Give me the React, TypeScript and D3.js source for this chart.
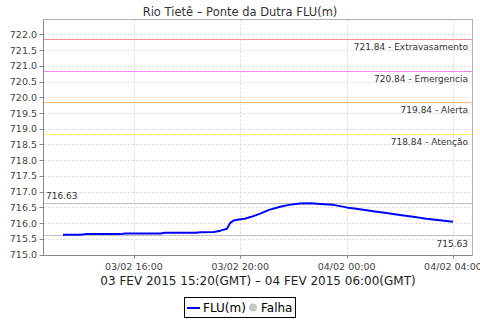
import React from "react";
import * as d3 from "d3";

const title = "Rio Tietê – Ponte da Dutra FLU(m)";
const xAxisTitle = "03 FEV 2015 15:20(GMT) – 04 FEV 2015 06:00(GMT)";

// local times (hh:mm) from 03/02 13:20 to 04/02 04:00
const times = [
  "03 13:20", "03 14:00", "03 14:10", "03 15:30", "03 15:40", "03 17:00", "03 17:10",
  "03 18:20", "03 18:30", "03 19:00", "03 19:15", "03 19:30", "03 19:37", "03 19:45",
  "03 20:00", "03 20:10", "03 20:25", "03 20:45", "03 21:05", "03 21:30", "03 21:50",
  "03 22:15", "03 22:40", "03 23:00", "03 23:30", "04 00:00", "04 00:30", "04 01:00",
  "04 01:30", "04 02:00", "04 02:30", "04 03:00", "04 03:30", "04 04:00",
];
const values = [
  715.63, 715.63, 715.65, 715.65, 715.67, 715.67, 715.69,
  715.69, 715.71, 715.72, 715.76, 715.82, 716.0, 716.08,
  716.12, 716.14, 716.2, 716.3, 716.42, 716.52, 716.58,
  716.62, 716.63, 716.61, 716.58, 716.5, 716.44, 716.38,
  716.32, 716.26, 716.2, 716.14, 716.09, 716.04,
];

const refValues = [721.84, 720.84, 719.84, 718.84];
const refNames = ["Extravasamento", "Emergencia", "Alerta", "Atenção"];
const refColors = ["#f09090", "#ee88ee", "#ffbb77", "#ffee66"];

const maxValue = 716.63;
const minValue = 715.63;

const yTicks = [715.0, 715.5, 716.0, 716.5, 717.0, 717.5, 718.0, 718.5, 719.0, 719.5, 720.0, 720.5, 721.0, 721.5, 722.0];
const xTickLabels = ["03/02 16:00", "03/02 20:00", "04/02 00:00", "04/02 04:00"];
const xTickTimes = ["03 16:00", "03 20:00", "04 00:00", "04 04:00"];

const parse = (s: string) => {
  const [d, hm] = s.split(" ");
  const [h, m] = hm.split(":").map(Number);
  return new Date(2015, 1, Number(d), h, m);
};

export default function App() {
  const W = 480, H = 320;
  const left = 43.5, right = 472.5, top = 19.5, bottom = 255.5;
  const dates = times.map(parse);
  const t0 = dates[0].getTime(), t1 = dates[dates.length - 1].getTime();
  const pad = (t1 - t0) * 0.05;
  const x = d3.scaleTime().domain([new Date(t0 - pad), new Date(t1 + pad)]).range([left, right]);
  const y = d3.scaleLinear().domain([714.97, 722.475]).range([bottom, top]);
  const line = d3.line<number>().x((_, i) => x(dates[i])).y((v) => y(v));
  const font = "DejaVu Sans, sans-serif";
  const tickColor = "#444";

  return (
    <svg width={W} height={H} style={{ position: "absolute", left: 0, top: 0, background: "#fff" }}>
      <rect x={0} y={0} width={W} height={H} fill="#fff" />
      <text x={240} y={15.5} textAnchor="middle" fontFamily={font} fontSize={11.5} fill="#333">{title}</text>
      {/* plot background */}
      <rect x={left} y={top} width={right - left} height={bottom - top} fill="#fff" />
      {/* grid */}
      {yTicks.map((t) => (
        <line key={"gy" + t} x1={left} x2={right} y1={Math.round(y(t)) + 0.5} y2={Math.round(y(t)) + 0.5}
          stroke="#d8d8d8" strokeDasharray="2,2" />
      ))}
      {xTickTimes.map((t) => (
        <line key={"gx" + t} y1={top} y2={bottom} x1={Math.round(x(parse(t))) + 0.5} x2={Math.round(x(parse(t))) + 0.5}
          stroke="#d8d8d8" strokeDasharray="2,2" />
      ))}
      {/* reference lines */}
      {refValues.map((v, i) => (
        <g key={"ref" + v}>
          <line x1={left} x2={right} y1={Math.round(y(v)) + 0.5} y2={Math.round(y(v)) + 0.5} stroke={refColors[i]} strokeWidth={1} />
          <text x={468} y={Math.round(y(v)) + 11} textAnchor="end" fontFamily={font} fontSize={9} fill="#333">
            {`${v.toFixed(2)} - ${refNames[i]}`}
          </text>
        </g>
      ))}
      <line x1={left} x2={right} y1={Math.round(y(maxValue)) + 0.5} y2={Math.round(y(maxValue)) + 0.5} stroke="#c0c0c0" />
      <text x={46} y={Math.round(y(maxValue)) - 4} fontFamily={font} fontSize={9} fill="#333">{maxValue.toFixed(2)}</text>
      <line x1={left} x2={right} y1={Math.round(y(minValue)) + 0.5} y2={Math.round(y(minValue)) + 0.5} stroke="#c0c0c0" />
      <text x={468} y={Math.round(y(minValue)) + 12} textAnchor="end" fontFamily={font} fontSize={9} fill="#333">{minValue.toFixed(2)}</text>
      {/* data line */}
      <path d={line(values) || ""} fill="none" stroke="#0000ff" strokeWidth={2} strokeLinejoin="round" />
      {/* plot border */}
      <rect x={left} y={top} width={right - left} height={bottom - top} fill="none" stroke="#b0b0b0" />
      <line x1={left} x2={left} y1={top} y2={bottom} stroke="#888" />
      <line x1={left} x2={right} y1={bottom} y2={bottom} stroke="#888" />
      {/* y ticks */}
      {yTicks.map((t) => (
        <g key={"yt" + t}>
          <line x1={left - 4} x2={left} y1={Math.round(y(t)) + 0.5} y2={Math.round(y(t)) + 0.5} stroke="#888" />
          <text x={37} y={y(t) + 3.5} textAnchor="end" fontFamily={font} fontSize={9.5} fill={tickColor}>{t.toFixed(1)}</text>
        </g>
      ))}
      {/* x ticks */}
      {xTickTimes.map((t, i) => (
        <g key={"xt" + t}>
          <line x1={Math.round(x(parse(t))) + 0.5} x2={Math.round(x(parse(t))) + 0.5} y1={bottom} y2={bottom + 3} stroke="#888" />
          <text x={x(parse(t))} y={269.5} textAnchor="middle" fontFamily={font} fontSize={9.5} fill={tickColor}>{xTickLabels[i]}</text>
        </g>
      ))}
      <text x={(left + right) / 2} y={285} textAnchor="middle" fontFamily={font} fontSize={12} fill="#222">{xAxisTitle}</text>
      {/* legend */}
      <rect x={184.5} y={297.5} width={111} height={20} fill="#fff" stroke="#000" />
      <line x1={187} x2={200} y1={308} y2={308} stroke="#0000ff" strokeWidth={2} />
      <text x={203} y={312} fontFamily={font} fontSize={12} fill="#000">FLU(m)</text>
      <circle cx={253} cy={307.5} r={4} fill="#c8c8c8" />
      <text x={261} y={312} fontFamily={font} fontSize={12} fill="#000">Falha</text>
    </svg>
  );
}
